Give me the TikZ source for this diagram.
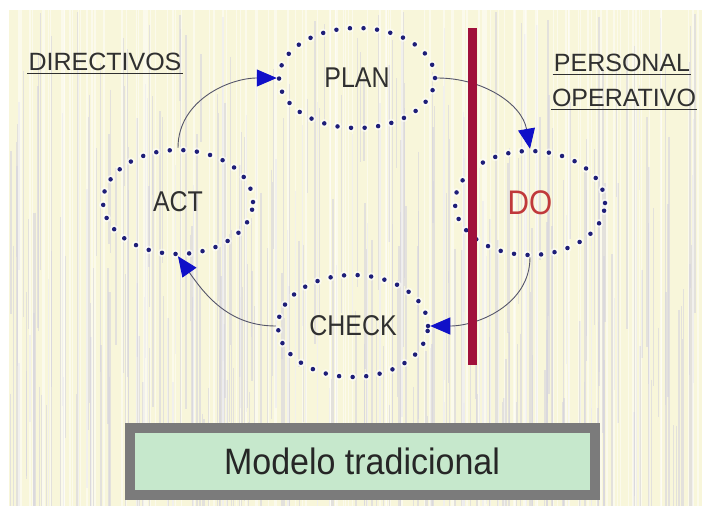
\documentclass[tikz,border=0pt]{standalone}
\usepackage{fontspec}
\setmainfont{Liberation Sans}
\usetikzlibrary{shapes.geometric,arrows.meta}

\definecolor{paper}{HTML}{F8F6DA}
\definecolor{streak}{HTML}{D6D4DE}
\definecolor{dotnavy}{HTML}{1E1E78}
\definecolor{barred}{HTML}{A0103C}
\definecolor{tipblue}{HTML}{1010C8}
\definecolor{linkgray}{HTML}{55556A}
\definecolor{frame}{HTML}{7B7B7B}
\definecolor{mint}{HTML}{C6E8CC}
\definecolor{ink}{HTML}{303030}
\definecolor{dored}{HTML}{C0393B}

% slightly tall lettering
\newcommand{\tallword}[1]{\scalebox{0.96}[1.1]{#1}}

\tikzset{
  phase/.style={ellipse, draw=dotnavy, line width=4.5pt, line cap=round,
    dash pattern=on 0pt off 13.6pt, text=ink,
    font=\fontsize{26}{30}\selectfont,
    preaction={draw=white, line width=8.5pt, opacity=0.55, line cap=round,
      dash pattern=on 0pt off 13.6pt}},
  role/.style={text=ink, font=\fontsize{25}{29}\selectfont, inner sep=1pt},
  ulline/.style={draw=ink, line width=1.3pt},
  link/.style={draw=linkgray, line width=0.9pt,
    -{Triangle[length=20pt,width=17pt,color=tipblue]}},
}

\begin{document}
\begin{tikzpicture}[x=1pt,y=-1pt]
  \useasboundingbox (0,0) rectangle (702,506);
  \fill[white] (0,0) rectangle (702,506);
  % textured paper
  \fill[paper] (9,10) rectangle (702,506);
  \pgfmathsetseed{11}
  \foreach \i in {1,...,300}{
    \pgfmathsetmacro{\xx}{10+690*rnd}
    \pgfmathsetmacro{\ww}{0.4+1.8*rnd}
    \pgfmathsetmacro{\ya}{10+420*rnd}
    \pgfmathsetmacro{\yb}{min(\ya+80+420*rnd,506)}
    \draw[streak, line width=\ww pt, opacity=0.6] (\xx,\ya) -- (\xx,\yb);
  }
  \foreach \i in {1,...,120}{
    \pgfmathsetmacro{\xx}{10+690*rnd}
    \pgfmathsetmacro{\ww}{0.5+1.5*rnd}
    \draw[white, line width=\ww pt, opacity=0.5] (\xx,10) -- (\xx,506);
  }

  % the four phases
  \node[phase, minimum width=156pt, minimum height=100pt] (plan)  at (357,78)  {\tallword{PLAN}};
  \node[phase, minimum width=150pt, minimum height=104pt] (act)   at (178,202) {\tallword{ACT}};
  \node[phase, minimum width=150pt, minimum height=104pt, text=dored,
        font=\fontsize{31}{34}\selectfont] (do) at (530,203) {\tallword{DO}};
  \node[phase, minimum width=150pt, minimum height=102pt] (check) at (353,326) {\tallword{CHECK}};

  % cycle arrows
  \draw[link] (act.north)  to[out=90,  in=180] (plan.west);
  \draw[link] (plan.east)  to[out=0,   in=100] (do.north);
  \draw[link] (do.south)   to[out=-90, in=0]   (check.east);
  \draw[link] (check.west) to[out=180, in=-55] (act.south);

  % dividing bar
  \coordinate (bartop) at (472,28);
  \coordinate (barbot) at (472,365);
  \draw[barred, line width=9pt] (bartop) -- (barbot);

  % roles
  \node[role] (dir) at (105,62) {DIRECTIVOS};
  \node[role] (pers) at (622,63) {PERSONAL};
  \node[role] (oper) at (624,98) {OPERATIVO};
  \draw[ulline] ([yshift=-3pt]dir.base west) -- ([yshift=-3pt]dir.base east);
  \draw[ulline] ([yshift=-3pt]pers.base west) -- ([yshift=-3pt]pers.base east);
  \draw[ulline] ([yshift=-3pt]oper.base west) -- ([yshift=-3pt]oper.base east);

  % caption box
  \node[draw=frame, line width=10pt, fill=mint, minimum width=465pt,
        minimum height=67pt, text=black!85, font=\fontsize{34}{38}\selectfont]
        (model) at (362,461) {\scalebox{1}[1.08]{Modelo tradicional}};
\end{tikzpicture}
\end{document}
